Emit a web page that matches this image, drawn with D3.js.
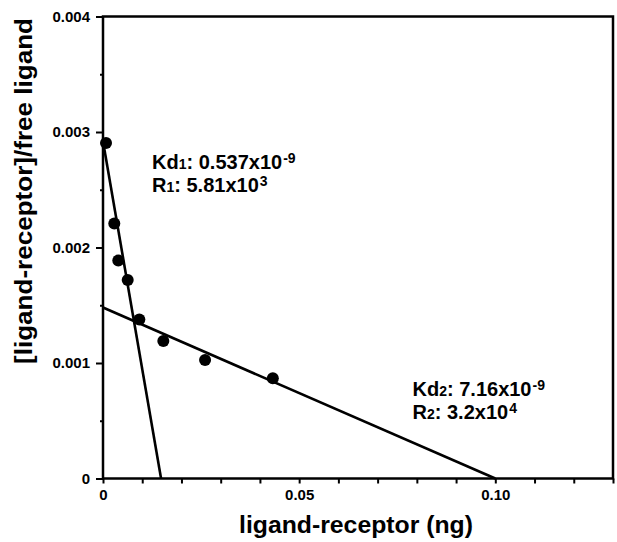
<!DOCTYPE html>
<html>
<head>
<meta charset="utf-8">
<script src="https://cdn.jsdelivr.net/npm/d3@7"></script>
<style>
  body { margin: 0; background: #fff; }
  svg { font-family: "Liberation Sans", Arial, sans-serif; font-weight: bold; }
</style>
</head>
<body>
<svg id="chart"></svg>
<script>
// Data
const boundValues = [0.00077, 0.00288, 0.0039, 0.0063, 0.00926, 0.01538, 0.02602, 0.04329];
const ratioValues = [0.002905, 0.002208, 0.001887, 0.001719, 0.001377, 0.00119, 0.001026, 0.000868];

// fitted lines: [x1, y1, x2, y2]
const fitLines = [
    [0, 0.00292, 0.0148, 0],
    [0, 0.00148, 0.10, 0]
];

const xTickValues = d3.range(0, 0.1301, 0.01);
const xTickLabels = { '0': '0', '0.05': '0.05', '0.1': '0.10' };
const yTickValues = d3.range(0, 0.00401, 0.0005);
const yTickLabels = ['0', '0.001', '0.002', '0.003', '0.004'];

const annotations = [
    { x: 0.0125, y: 0.00268, lines: [['Kd', '1', ': 0.537x10', '-9'], ['R', '1', ': 5.81x10', '3']] },
    { x: 0.0789, y: 0.00071, lines: [['Kd', '2', ': 7.16x10', '-9'], ['R', '2', ': 3.2x10', '4']] }
];

// Layout
const width = 617, height = 542;
const margin = { top: 16.5, right: 4, bottom: 63.5, left: 103 };

const svg = d3.select('#chart').attr('width', width).attr('height', height);

const x = d3.scaleLinear().domain([0, 0.13]).range([margin.left, width - margin.right]);
const y = d3.scaleLinear().domain([0, 0.004]).range([height - margin.bottom, margin.top]);

// Frame
svg.append('rect')
    .attr('x', x(0)).attr('y', y(0.004))
    .attr('width', x(0.13) - x(0)).attr('height', y(0) - y(0.004))
    .attr('fill', 'none').attr('stroke', '#000').attr('stroke-width', 2.5);

// X axis
const xAxis = svg.append('g')
    .attr('transform', `translate(0,${y(0)})`)
    .call(d3.axisBottom(x).tickValues(xTickValues).tickSize(5).tickFormat(d => {
        const key = String(+d.toFixed(2));
        return xTickLabels[key] || '';
    }));
xAxis.select('.domain').remove();
xAxis.selectAll('line').attr('stroke-width', 2);
xAxis.selectAll('text')
    .attr('font-size', 15).attr('font-family', '"Liberation Sans", Arial, sans-serif')
    .attr('font-weight', 'bold').attr('fill', '#000').attr('dy', '0.9em');

// Y axis
const yAxis = svg.append('g')
    .attr('transform', `translate(${x(0)},0)`)
    .call(d3.axisLeft(y).tickValues(yTickValues).tickSize(4).tickPadding(9).tickFormat((d, i) =>
        i % 2 === 0 ? yTickLabels[i / 2] : ''));
yAxis.select('.domain').remove();
yAxis.selectAll('line')
    .attr('stroke-width', 2)
    .attr('x2', (d, i) => i % 2 === 0 ? -7 : -3);
yAxis.selectAll('text')
    .attr('font-size', 15).attr('font-family', '"Liberation Sans", Arial, sans-serif')
    .attr('font-weight', 'bold').attr('fill', '#000');

// Fit lines
svg.append('g').selectAll('line')
    .data(fitLines)
    .join('line')
    .attr('x1', d => x(d[0])).attr('y1', d => y(d[1]))
    .attr('x2', d => x(d[2])).attr('y2', d => y(d[3]))
    .attr('stroke', '#000').attr('stroke-width', 2.6);

// Points
svg.append('g').selectAll('circle')
    .data(boundValues.map((b, i) => [b, ratioValues[i]]))
    .join('circle')
    .attr('cx', d => x(d[0])).attr('cy', d => y(d[1]))
    .attr('r', 6).attr('fill', '#000');

// Annotations (one text element per block, lines as tspans)
annotations.forEach(a => {
    const t = svg.append('text')
        .attr('x', x(a.x)).attr('y', y(a.y))
        .attr('font-size', 20);
    a.lines.forEach((parts, li) => {
        t.append('tspan').attr('x', x(a.x)).attr('y', y(a.y) + li * 23).text(parts[0]);
        t.append('tspan').attr('font-size', 14).text(parts[1]);
        t.append('tspan').text(parts[2]);
        t.append('tspan').attr('font-size', 14).attr('dx', 1).attr('dy', -6).text(parts[3]);
    });
});

// Axis titles
svg.append('text')
    .attr('x', 356).attr('y', 533)
    .attr('text-anchor', 'middle').attr('font-size', 23)
    .attr('textLength', 234).attr('lengthAdjust', 'spacingAndGlyphs')
    .text('ligand-receptor (ng)');

svg.append('text')
    .attr('transform', `translate(32,${191}) rotate(-90)`)
    .attr('text-anchor', 'middle').attr('font-size', 23)
    .attr('textLength', 346).attr('lengthAdjust', 'spacingAndGlyphs')
    .text('[ligand-receptor]/free ligand');
</script>
</body>
</html>
